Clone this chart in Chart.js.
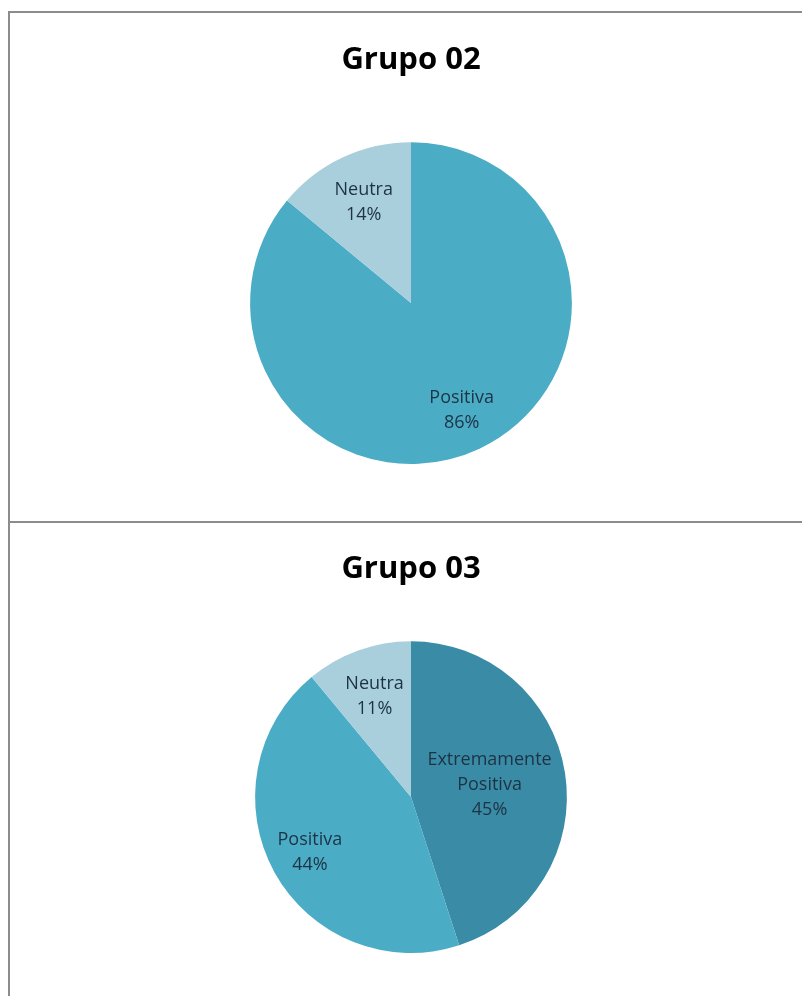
<!DOCTYPE html>
<html>
<head>
<meta charset="utf-8">
<script src="https://cdn.jsdelivr.net/npm/chart.js@4"></script>
<style>
  html, body { margin: 0; padding: 0; background: #fff; overflow: hidden; }
  body { width: 802px; height: 996px; position: relative; }
  .box { position: absolute; left: 8px; box-sizing: border-box; border: 2px solid #8c8c8c; border-right: none; }
  #box02 { top: 11px; width: 794px; height: 512px; }
  #box03 { top: 521px; width: 794px; height: 480px; border-bottom: none; }
  canvas { position: absolute; left: 10px; }
  #grupo02 { top: 13px; }
  #grupo03 { top: 523px; }
</style>
</head>
<body>
<div class="box" id="box02"></div>
<div class="box" id="box03"></div>
<canvas id="grupo02" width="792" height="508"></canvas>
<canvas id="grupo03" width="792" height="473"></canvas>
<script>
'use strict';

// Grupo 02
const labels02 = ['Positiva', 'Neutra'];
const values02 = [86, 14];
const colors02 = ['#4bacc6', '#a9cfdc'];

// Grupo 03
const labels03 = ['Extremamente Positiva', 'Positiva', 'Neutra'];
const values03 = [45, 44, 11];
const colors03 = ['#3a8ba5', '#4bacc6', '#a9cfdc'];

// rótulos dentro das fatias: nome (quebrado em palavras) + percentual
const sliceLabels = {
  id: 'sliceLabels',
  afterDatasetsDraw(chart, args, opts) {
    const ctx = chart.ctx;
    const meta = chart.getDatasetMeta(0);
    const data = chart.data.datasets[0].data;
    const total = data.reduce((a, b) => a + b, 0);
    ctx.save();
    ctx.font = opts.font;
    ctx.fillStyle = opts.color;
    ctx.textAlign = 'center';
    ctx.textBaseline = 'middle';
    meta.data.forEach((arc, i) => {
      const mid = (arc.startAngle + arc.endAngle) / 2;
      const r = arc.outerRadius * opts.radius[i];
      const x = arc.x + Math.cos(mid) * r;
      const y = arc.y + Math.sin(mid) * r;
      const lines = chart.data.labels[i].split(' ');
      lines.push(Math.round(data[i] / total * 100) + '%');
      const top = y - (lines.length - 1) * opts.lineHeight / 2;
      lines.forEach((t, k) => ctx.fillText(t, x, top + k * opts.lineHeight));
    });
    ctx.restore();
  }
};

function pie(id, title, labels, values, colors, pad, labelRadius) {
  return new Chart(document.getElementById(id).getContext('2d'), {
    type: 'pie',
    data: {
      labels: labels,
      datasets: [{ data: values, backgroundColor: colors, borderWidth: 0 }]
    },
    options: {
      responsive: false,
      animation: false,
      layout: { padding: { left: 10, bottom: pad.bottom } },
      plugins: {
        legend: { display: false },
        tooltip: { enabled: false },
        title: {
          display: true,
          text: title,
          color: '#000',
          font: { family: 'Open Sans', size: 31, weight: 'bold' },
          padding: { top: pad.titleTop, bottom: pad.titleBottom }
        },
        sliceLabels: {
          font: '18px "Open Sans"',
          color: '#1d3345',
          lineHeight: 25,
          radius: labelRadius
        }
      }
    },
    plugins: [sliceLabels]
  });
}

pie('grupo02', 'Grupo 02', labels02, values02, colors02,
  { titleTop: 29, titleBottom: 63, bottom: 57 }, [0.74, 0.69]);
pie('grupo03', 'Grupo 03', labels03, values03, colors03,
  { titleTop: 28, titleBottom: 53, bottom: 43 }, [0.51, 0.74, 0.69]);
</script>
</body>
</html>
